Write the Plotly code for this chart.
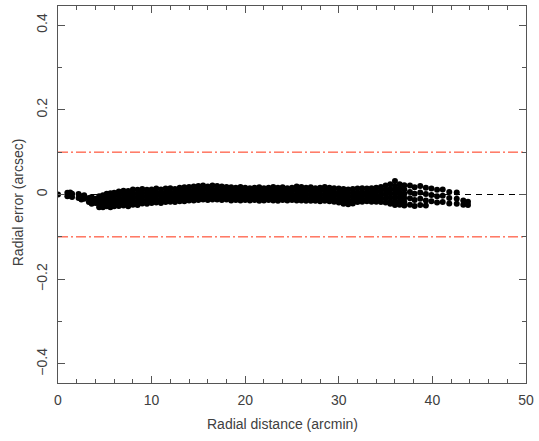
import plotly.graph_objects as go

# radial error (arcsec) vs radial distance (arcmin)
inner_dist = [0.0, 1.0, 1.3, 1.5, 2.2, 2.5, 2.8, 3.3, 3.6, 4.0, 4.4, 4.8, 5.2, 5.6]
inner_err = [
    [0.0], [0.004, -0.004], [0.005, -0.003], [0.002, -0.006], [0.001, -0.008],
    [-0.004, -0.012], [-0.002, -0.010], [-0.008, -0.018], [-0.006, -0.014, -0.022],
    [-0.010, -0.020], [-0.004, -0.014, -0.024, -0.030], [-0.002, -0.012, -0.022, -0.030],
    [0.002, -0.008, -0.018, -0.028], [0.003, -0.006, -0.016, -0.026, -0.030],
]

band_dist = [6.0 + 0.5 * i for i in range(63)]
band_err = [
    [0.004, -0.004, -0.012, -0.020, -0.028], [0.007, -0.002, -0.011, -0.019, -0.027],
    [0.009, 0.000, -0.009, -0.018, -0.026], [0.008, -0.001, -0.010, -0.019, -0.028],
    [0.012, 0.003, -0.006, -0.015, -0.024], [0.011, 0.002, -0.007, -0.016, -0.025],
    [0.013, 0.004, -0.005, -0.013, -0.021], [0.011, 0.003, -0.005, -0.013, -0.022],
    [0.012, 0.004, -0.004, -0.012, -0.020], [0.014, 0.005, -0.003, -0.011, -0.019],
    [0.012, 0.004, -0.004, -0.012, -0.020], [0.014, 0.005, -0.003, -0.011, -0.018],
    [0.015, 0.006, -0.002, -0.010, -0.017], [0.013, 0.005, -0.003, -0.011, -0.018],
    [0.016, 0.007, -0.001, -0.009, -0.016], [0.017, 0.008, 0.000, -0.008, -0.016],
    [0.018, 0.009, 0.001, -0.007, -0.014], [0.019, 0.010, 0.002, -0.006, -0.014],
    [0.020, 0.011, 0.003, -0.005, -0.013], [0.021, 0.012, 0.004, -0.004, -0.012],
    [0.019, 0.011, 0.003, -0.005, -0.013], [0.021, 0.012, 0.004, -0.004, -0.012],
    [0.020, 0.011, 0.003, -0.005, -0.012], [0.019, 0.010, 0.002, -0.006, -0.013],
    [0.018, 0.010, 0.002, -0.006, -0.012], [0.017, 0.009, 0.001, -0.007, -0.014],
    [0.016, 0.008, 0.000, -0.007, -0.013], [0.018, 0.009, 0.001, -0.007, -0.014],
    [0.016, 0.008, 0.000, -0.007, -0.013], [0.015, 0.007, -0.001, -0.008, -0.014],
    [0.016, 0.008, 0.000, -0.007, -0.013], [0.017, 0.008, 0.000, -0.008, -0.015],
    [0.015, 0.007, -0.001, -0.008, -0.014], [0.016, 0.008, 0.000, -0.007, -0.013],
    [0.018, 0.009, 0.001, -0.007, -0.014], [0.016, 0.008, 0.000, -0.008, -0.015],
    [0.017, 0.008, 0.000, -0.007, -0.013], [0.015, 0.007, -0.001, -0.008, -0.014],
    [0.016, 0.008, 0.000, -0.007, -0.013], [0.019, 0.010, 0.001, -0.007, -0.014],
    [0.018, 0.009, 0.001, -0.007, -0.014], [0.016, 0.008, 0.000, -0.008, -0.015],
    [0.017, 0.008, 0.000, -0.008, -0.015], [0.015, 0.007, -0.001, -0.008, -0.015],
    [0.016, 0.008, 0.000, -0.008, -0.016], [0.018, 0.009, 0.000, -0.008, -0.015],
    [0.016, 0.008, 0.000, -0.008, -0.016], [0.015, 0.006, -0.002, -0.010, -0.017],
    [0.014, 0.005, -0.003, -0.011, -0.019], [0.013, 0.004, -0.004, -0.013, -0.022],
    [0.012, 0.003, -0.006, -0.015, -0.023], [0.013, 0.004, -0.005, -0.013, -0.021],
    [0.014, 0.005, -0.003, -0.011, -0.018], [0.015, 0.006, -0.002, -0.010, -0.017],
    [0.014, 0.005, -0.003, -0.011, -0.016], [0.015, 0.006, -0.002, -0.010, -0.017],
    [0.016, 0.007, -0.001, -0.009, -0.017], [0.018, 0.008, -0.001, -0.010, -0.018],
    [0.021, 0.011, 0.001, -0.009, -0.019], [0.024, 0.013, 0.003, -0.007, -0.017, -0.022],
    [0.032, 0.020, 0.010, 0.000, -0.010, -0.020, -0.025],
    [0.024, 0.014, 0.004, -0.006, -0.016, -0.024],
    [0.022, 0.012, 0.002, -0.008, -0.018, -0.026],
]

outer_dist = [37.6, 38.1, 38.7, 39.3, 39.9, 40.5, 41.1, 41.8, 42.6, 43.3, 43.8]
outer_err = [
    [0.021, 0.006, -0.009, -0.024], [0.017, 0.002, -0.013, -0.027],
    [0.020, 0.005, -0.010, -0.025], [0.016, 0.001, -0.014, -0.026],
    [0.014, -0.001, -0.016], [0.011, -0.004, -0.019],
    [0.012, -0.003, -0.018], [0.006, -0.008, -0.021],
    [0.005, -0.010, -0.022], [-0.014, -0.024], [-0.017, -0.025],
]

zero_level = 0.0
limit_levels = [0.1, -0.1]
x_range = [0, 50]
y_range = [-0.445, 0.445]

xs, ys = [], []
for dists, errs in [(inner_dist, inner_err), (band_dist, band_err), (outer_dist, outer_err)]:
    for d, col in zip(dists, errs):
        for e in col:
            xs.append(d)
            ys.append(e)

fig = go.Figure()

fig.add_trace(go.Scatter(x=x_range, y=[zero_level, zero_level], mode='lines',
                         line=dict(color='black', width=1, dash='6px,5px'),
                         hoverinfo='skip', showlegend=False))
for lvl in limit_levels:
    fig.add_trace(go.Scatter(x=x_range, y=[lvl, lvl], mode='lines',
                             line=dict(color='#ff3010', width=1, dash='10px,3px,2px,3px'),
                             hoverinfo='skip', showlegend=False))

fig.add_trace(go.Scatter(x=xs, y=ys, mode='markers',
                         marker=dict(color='black', size=6, line=dict(width=0)),
                         showlegend=False))

axis_col = '#555555'
font_col = '#404040'

fig.update_xaxes(range=x_range, tick0=0, dtick=10, ticks='inside', ticklen=7,
                 tickcolor=axis_col, showline=True, linecolor=axis_col, linewidth=1,
                 mirror='allticks', showgrid=False, zeroline=False,
                 minor=dict(dtick=2, ticks='inside', ticklen=4, tickcolor=axis_col, showgrid=False),
                 tickfont=dict(size=14, color=font_col), ticklabelstandoff=4)
fig.update_yaxes(range=y_range, tick0=0, dtick=0.2, ticks='inside', ticklen=7,
                 tickcolor=axis_col, showline=True, linecolor=axis_col, linewidth=1,
                 mirror='allticks', showgrid=False, zeroline=False, tickangle=-90,
                 minor=dict(dtick=0.1, ticks='inside', ticklen=4, tickcolor=axis_col, showgrid=False),
                 tickfont=dict(size=14, color=font_col), ticklabelstandoff=4)

fig.update_layout(
    width=539, height=441,
    margin=dict(l=58, r=10, t=5, b=58),
    plot_bgcolor='white', paper_bgcolor='white',
    font=dict(family='Liberation Sans', color=font_col),
    annotations=[
        dict(text='Radial distance (arcmin)', xref='paper', yref='paper',
             x=0.48, y=-0.11, xanchor='center', yanchor='middle',
             showarrow=False, font=dict(size=14, color=font_col)),
        dict(text='Radial error (arcsec)', xref='paper', yref='paper',
             x=-0.085, y=0.48, xanchor='center', yanchor='middle', textangle=-90,
             showarrow=False, font=dict(size=14, color=font_col)),
    ],
)

fig.write_html("out.html", config={'displayModeBar': False},
               post_script="document.body.style.margin='0';")
